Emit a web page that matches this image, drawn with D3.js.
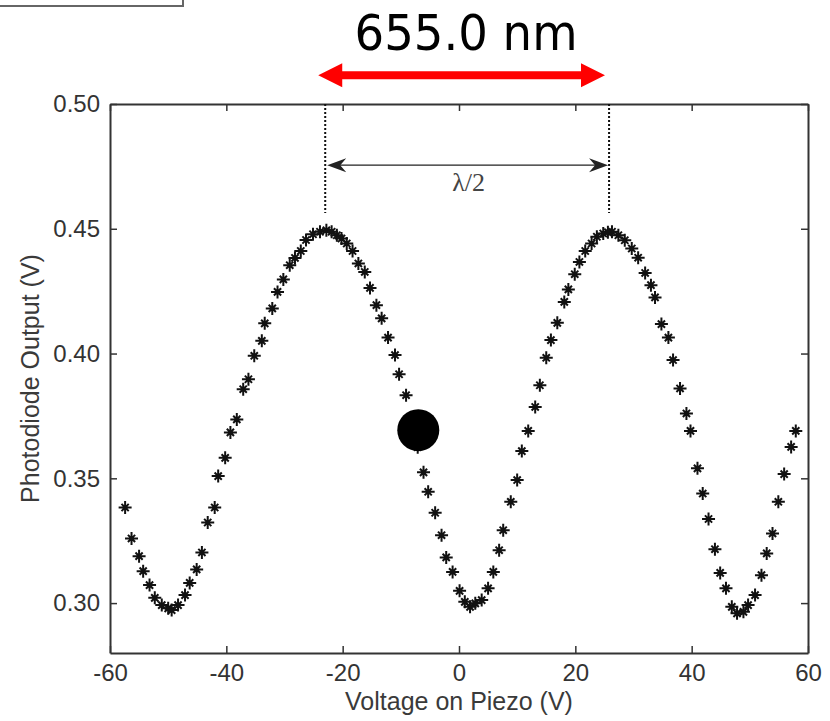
<!DOCTYPE html>
<html>
<head>
<meta charset="utf-8">
<script src="https://cdn.jsdelivr.net/npm/d3@7"></script>
<style>
  body { margin: 0; background: #fff; }
  svg { display: block; }
</style>
</head>
<body>
<div id="chart"></div>
<script>
// Measured points (piezo voltage, photodiode output)
const voltage = [
  -57.4, -56.3, -55.0, -54.3, -53.2, -52.3, -51.1, -50.0, -49.4, -48.3,
  -47.1, -46.3, -45.1, -44.2, -43.2, -42.0, -41.4, -40.2, -39.3, -38.2,
  -37.1, -36.2, -35.2, -33.9, -33.4, -32.1, -31.2, -30.2, -29.1, -28.2,
  -27.2, -26.3, -25.1, -23.9, -22.8, -21.9, -21.0, -20.2, -19.3, -18.3,
  -17.3, -16.2, -15.3, -14.2, -13.3, -12.2, -11.0, -10.3, -9.1, -8.1,
  -7.1, -6.1, -5.3, -4.1, -3.0, -2.2, -1.1, 0.1, 1.0, 1.9,
  2.8, 3.9, 5.0, 5.9, 6.9, 7.6, 8.9, 10.0, 10.8, 11.9,
  13.1, 13.9, 15.0, 15.8, 16.9, 18.1, 18.8, 19.9, 20.7, 21.7,
  22.8, 23.7, 24.8, 25.6, 26.3, 27.4, 28.5, 29.7, 30.8, 32.0,
  33.0, 33.7, 34.8, 36.0, 36.8, 38.0, 39.1, 39.8, 41.0, 41.9,
  42.9, 44.0, 44.9, 45.9, 46.9, 47.8, 48.9, 49.7, 50.9, 52.0,
  52.9, 53.9, 54.9, 55.9, 57.1, 57.9
];
const output = [
  0.3383, 0.3259, 0.3188, 0.3128, 0.3072, 0.3021, 0.2992, 0.2979, 0.2972, 0.2992,
  0.3032, 0.3081, 0.3135, 0.3203, 0.3323, 0.3383, 0.3509, 0.3582, 0.3684, 0.3736,
  0.3857, 0.3897, 0.3991, 0.4051, 0.4121, 0.4181, 0.4247, 0.4297, 0.4354, 0.4383,
  0.4411, 0.4455, 0.4478, 0.4488, 0.4494, 0.4488, 0.4474, 0.4461, 0.4441, 0.4411,
  0.4361, 0.4327, 0.4263, 0.4194, 0.4141, 0.4064, 0.3994, 0.3917, 0.3833, 0.3729,
  0.3625, 0.3524, 0.3446, 0.3362, 0.3272, 0.3183, 0.3125, 0.3049, 0.3005, 0.2985,
  0.2999, 0.3012, 0.3059, 0.3125, 0.3212, 0.3292, 0.3406, 0.3493, 0.3609, 0.3690,
  0.3786, 0.3873, 0.3983, 0.4054, 0.4123, 0.4207, 0.4257, 0.4318, 0.4367, 0.4411,
  0.4441, 0.4468, 0.4481, 0.4486, 0.4488, 0.4474, 0.4454, 0.4421, 0.4384, 0.4323,
  0.4274, 0.4225, 0.4118, 0.4064, 0.3974, 0.3860, 0.3760, 0.3690, 0.3540, 0.3439,
  0.3337, 0.3216, 0.3121, 0.3059, 0.2985, 0.2959, 0.2965, 0.2992, 0.3032, 0.3112,
  0.3199, 0.3279, 0.3406, 0.3517, 0.3626, 0.3690
];

// Axis ticks
const xTicks = [-60, -40, -20, 0, 20, 40, 60];
const yTicks = [0.30, 0.35, 0.40, 0.45, 0.50];

// Annotations (data units)
const peaks = [-23.0, 25.8];          // dotted lines at the two maxima
const halfLambdaY = 0.4755;           // level of the lambda/2 arrow
const dottedBottom = 0.4563;
const marker = { v: -7.0, out: 0.3693 };
const redArrow = [-24.2, 25.1];
const redArrowY = 0.5115;
const titleText = "655.0 nm";

// Set the dimensions and margins of the graph
const margin = { top: 104, right: 22, bottom: 68, left: 110 },
      width = 830 - margin.left - margin.right,
      height = 721 - margin.top - margin.bottom;

const svg = d3.select("#chart")
    .append("svg")
    .attr("width", width + margin.left + margin.right)
    .attr("height", height + margin.top + margin.bottom);

// leftover box edge at the top-left corner
svg.append("path")
    .attr("d", "M0,6H183V0")
    .attr("fill", "none")
    .attr("stroke", "#666")
    .attr("stroke-width", 2);

const g = svg.append("g")
    .attr("transform", `translate(${margin.left},${margin.top})`);

// Set the scales
const x = d3.scaleLinear().domain([-60, 60]).range([0, width]);
const y = d3.scaleLinear().domain([0.28, 0.50]).range([height, 0]);

const font = "'Liberation Sans', Arial, sans-serif";

function styleAxis(sel) {
    sel.select(".domain").attr("stroke", "#333").attr("stroke-width", 2);
    sel.selectAll(".tick line").attr("stroke", "#333").attr("stroke-width", 1.5);
    sel.selectAll(".tick text")
        .attr("fill", "#333")
        .style("font-family", font)
        .style("font-size", "24px");
}

// Add the x-axis
g.append("g")
    .attr("transform", `translate(0,${height})`)
    .call(d3.axisBottom(x).tickValues(xTicks).tickSizeInner(-7).tickSizeOuter(0).tickPadding(11)
        .tickFormat(d => String(d)))
    .call(styleAxis);

g.append("g")
    .call(d3.axisTop(x).tickValues(xTicks).tickSizeInner(-7).tickSizeOuter(0).tickFormat(""))
    .call(styleAxis);

// Add the y-axis
g.append("g")
    .call(d3.axisLeft(y).tickValues(yTicks).tickSizeInner(-7).tickSizeOuter(0).tickPadding(10)
        .tickFormat(d => d.toFixed(2)))
    .call(styleAxis);

g.append("g")
    .attr("transform", `translate(${width},0)`)
    .call(d3.axisRight(y).tickValues(yTicks).tickSizeInner(-7).tickSizeOuter(0).tickFormat(""))
    .call(styleAxis);

// Axis labels
g.append("text")
    .attr("x", width / 2)
    .attr("y", height + 57)
    .attr("text-anchor", "middle")
    .attr("fill", "#3a3a3a")
    .style("font-family", font)
    .style("font-size", "25px")
    .text("Voltage on Piezo (V)");

g.append("text")
    .attr("transform", "rotate(-90)")
    .attr("x", -height / 2)
    .attr("y", -margin.left + 39)
    .attr("text-anchor", "middle")
    .attr("fill", "#3a3a3a")
    .style("font-family", font)
    .style("font-size", "25px")
    .text("Photodiode Output (V)");

// Dotted lines at the peaks
peaks.forEach(p => {
    g.append("line")
        .attr("x1", x(p)).attr("x2", x(p))
        .attr("y1", y(0.50)).attr("y2", y(dottedBottom))
        .attr("stroke", "#111")
        .attr("stroke-width", 2)
        .attr("stroke-dasharray", "2,2");
});

// lambda/2 double arrow
const ay = y(halfLambdaY);
const ax1 = x(peaks[0]) + 2, ax2 = x(peaks[1]) - 1;
g.append("line")
    .attr("x1", ax1 + 8).attr("x2", ax2 - 8)
    .attr("y1", ay).attr("y2", ay)
    .attr("stroke", "#222")
    .attr("stroke-width", 1.4);
g.append("path")
    .attr("d", `M${ax1},${ay}L${ax1 + 19},${ay - 7}L${ax1 + 13},${ay}L${ax1 + 19},${ay + 7}Z` +
               `M${ax2},${ay}L${ax2 - 19},${ay - 7}L${ax2 - 13},${ay}L${ax2 - 19},${ay + 7}Z`)
    .attr("fill", "#222");
g.append("text")
    .attr("x", (ax1 + ax2) / 2 + 1)
    .attr("y", ay + 26)
    .attr("text-anchor", "middle")
    .attr("fill", "#444")
    .style("font-family", "'Liberation Serif', 'Times New Roman', serif")
    .style("font-size", "26px")
    .text("\u03bb/2");

// Data points as MATLAB-style asterisks
const star = "M-6.5,0H6.5M0,-6.5V6.5M-3.6,-3.6L3.6,3.6M-3.6,3.6L3.6,-3.6";
g.selectAll(".pt")
    .data(d3.zip(voltage, output))
    .enter().append("path")
    .attr("class", "pt")
    .attr("transform", d => `translate(${x(d[0])},${y(d[1])})`)
    .attr("d", star)
    .attr("fill", "none")
    .attr("stroke", "#111")
    .attr("stroke-width", 2);

// Big black marker
g.append("circle")
    .attr("cx", x(marker.v))
    .attr("cy", y(marker.out))
    .attr("r", 21)
    .attr("fill", "#000");

// Red double arrow over the plot
const ry = y(redArrowY);
const r1 = x(redArrow[0]), r2 = x(redArrow[1]);
g.append("path")
    .attr("d", `M${r1},${ry}L${r1 + 24},${ry - 12}V${ry - 4}H${r2 - 24}V${ry - 12}L${r2},${ry}` +
               `L${r2 - 24},${ry + 12}V${ry + 4}H${r1 + 24}V${ry + 12}Z`)
    .attr("fill", "#f00");

// Title
svg.append("text")
    .attr("x", 466)
    .attr("y", 50)
    .attr("text-anchor", "middle")
    .attr("fill", "#000")
    .attr("textLength", 223)
    .attr("lengthAdjust", "spacingAndGlyphs")
    .style("font-family", "'Comic Sans MS', 'DejaVu Sans', sans-serif")
    .style("font-size", "50px")
    .text(titleText);
</script>
</body>
</html>
